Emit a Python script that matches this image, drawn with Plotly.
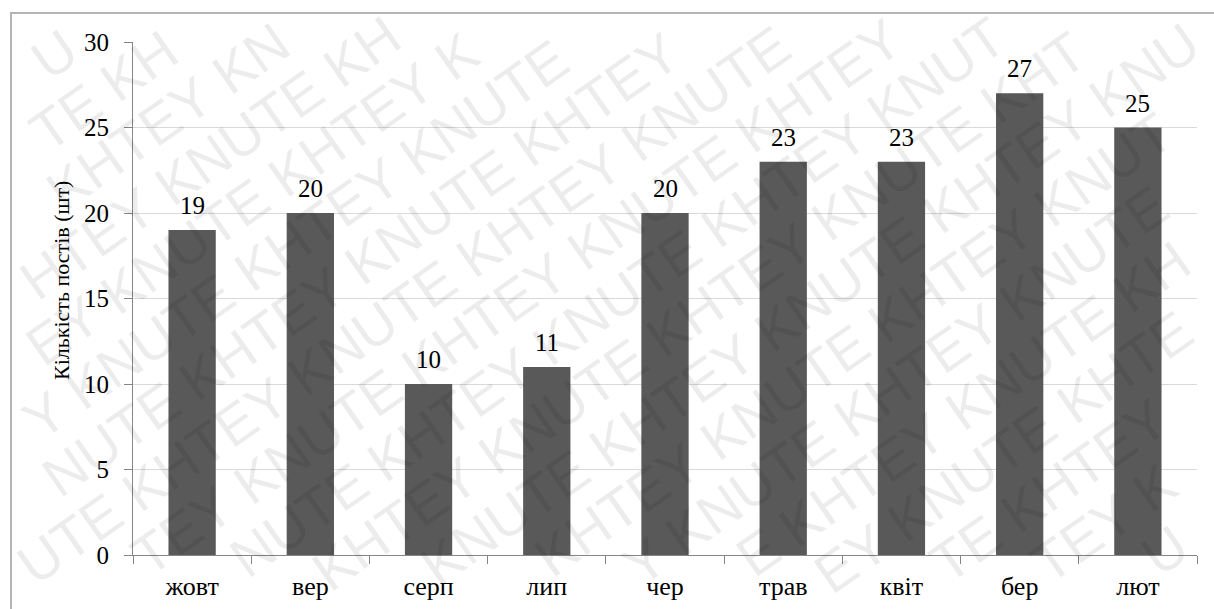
import math
import plotly.graph_objects as go

# Monthly post counts
months = ["жовт", "вер", "серп", "лип", "чер", "трав", "квіт", "бер", "лют"]
posts = [19, 20, 10, 11, 20, 23, 23, 27, 25]
y_ticks = [0, 5, 10, 15, 20, 25, 30]
y_title = "Кількість постів (шт)"
watermark_words = ["KHTEY", "KNUTE"]

W, H = 1214, 609
L, R, T, B = 133, 17, 42, 54
PW, PH = W - L - R, H - T - B

serif = "Times New Roman, Liberation Serif, Tinos, DejaVu Serif, serif"
axis_grey = "#868686"

fig = go.Figure()
fig.add_trace(go.Bar(
    x=months, y=posts, width=0.4,
    marker=dict(color="#595959", line=dict(width=0)),
    hoverinfo="x+y",
))

def px_to_paper(px, py):
    return (px - L) / PW, (H - B - py) / PH

annotations = []

# diagonal background watermark; words crossing the page edge are trimmed
# to the letters that fit
wm_size = 56
adv = {"K": 0.667, "H": 0.722, "T": 0.611, "E": 0.667, "Y": 0.667,
       "N": 0.722, "U": 0.722}
ang = math.radians(35)
ca, sa = math.cos(ang), math.sin(ang)
ux, uy = ca, -sa                            # along the rows
nx, ny = sa, ca                             # across the rows
row_gap = 58
space = 0.278 * wm_size
box_h = 1.2 * wm_size

def fits(cx, cy, w):
    hw = (w * ca + box_h * sa) / 2
    hh = (w * sa + box_h * ca) / 2
    return cx - hw >= 0 and cx + hw <= W and cy - hh >= 0 and cy + hh <= H

for k in range(-14, 15):
    ox = W / 2 + k * row_gap * nx
    oy = H / 2 + k * row_gap * ny
    s = -1100.0 + (k % 4) * 95
    idx = k % 2
    while s < 1100:
        word = watermark_words[idx % 2]
        kept = []
        pos = s
        for ch in word:
            w = adv[ch] * wm_size
            c = pos + w / 2
            if fits(ox + c * ux, oy + c * uy, w):
                kept.append((ch, pos, pos + w))
            pos += w
        if kept:
            frag = "".join(ch for ch, _, _ in kept)
            mid = (kept[0][1] + kept[-1][2]) / 2
            xp, yp = px_to_paper(ox + mid * ux, oy + mid * uy)
            annotations.append(dict(
                x=xp, y=yp, xref="paper", yref="paper", text=frag,
                showarrow=False, textangle=-35,
                xanchor="center", yanchor="middle",
                font=dict(family="Liberation Sans, Arial, sans-serif",
                          size=wm_size, color="rgba(0,0,0,0.075)"),
            ))
        s = pos + space
        idx += 1

# value labels above bars
for m, v in zip(months, posts):
    annotations.append(dict(
        x=m, y=v, xref="x", yref="y", text=str(v), showarrow=False,
        yanchor="bottom", yshift=9,
        font=dict(family=serif, size=25, color="black"),
    ))

# vertical axis title
tx, ty = px_to_paper(61, 281)
annotations.append(dict(
    x=tx, y=ty, xref="paper", yref="paper", text=y_title, showarrow=False,
    textangle=-90, xanchor="center", yanchor="middle",
    font=dict(family=serif, size=22, color="black"),
))

# outer chart frame
fx0, fy0 = px_to_paper(11, 13)
fx1, fy1 = px_to_paper(W + 5, H + 5)
shapes = [dict(type="rect", xref="paper", yref="paper",
               x0=fx0, y0=fy1, x1=fx1, y1=fy0,
               line=dict(color="#b4b4b4", width=2), layer="above")]

fig.update_layout(
    width=W, height=H,
    margin=dict(l=L, r=R, t=T, b=B, autoexpand=False),
    paper_bgcolor="white", plot_bgcolor="white",
    showlegend=False, bargap=0.6,
    font=dict(family=serif, size=25, color="black"),
    annotations=annotations, shapes=shapes,
    xaxis=dict(
        type="category", range=[-0.5, len(months) - 0.5],
        showgrid=False, showline=True, linecolor=axis_grey, linewidth=1,
        ticks="outside", tickson="boundaries", ticklen=8, tickcolor=axis_grey,
        tickfont=dict(family=serif, size=26, color="black"),
        ticklabelstandoff=8, zeroline=False,
    ),
    yaxis=dict(
        range=[0, 30], tickvals=y_ticks, ticktext=[str(t) for t in y_ticks],
        showgrid=True, gridcolor="#d9d9d9", gridwidth=1,
        showline=True, linecolor=axis_grey, linewidth=1,
        ticks="outside", ticklen=8, tickcolor=axis_grey,
        tickfont=dict(family=serif, size=25, color="black"),
        ticklabelstandoff=10, zeroline=False,
    ),
)

fig.write_html("out.html")
